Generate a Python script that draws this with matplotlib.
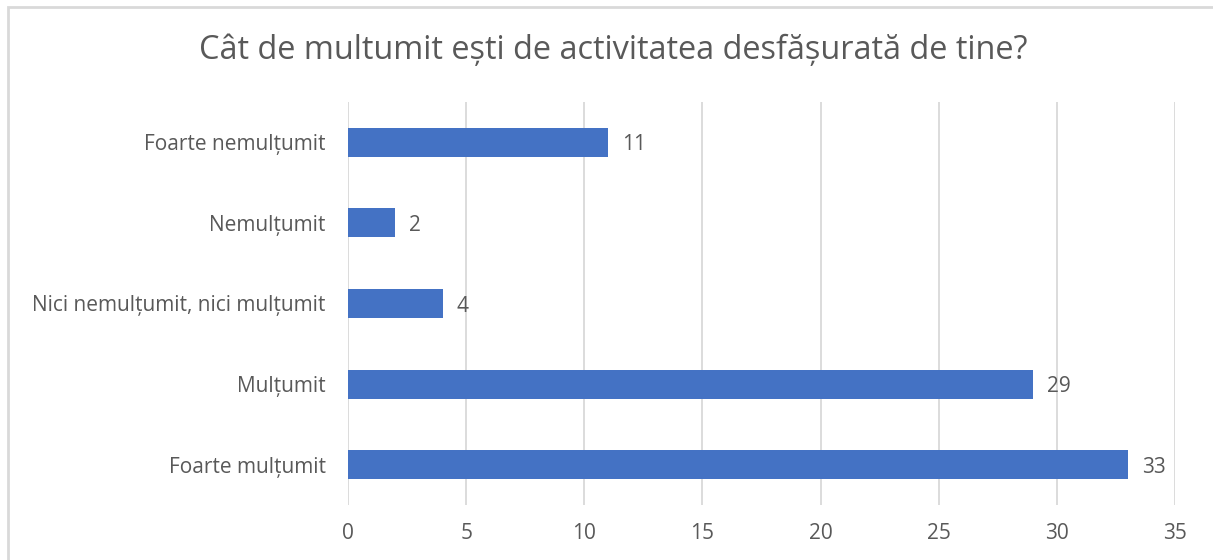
import matplotlib
matplotlib.use("Agg")
from matplotlib import pyplot as plt
from matplotlib.patches import Rectangle

plt.rcParams['font.family'] = ['Open Sans', 'DejaVu Sans']

title = "Cât de multumit ești de activitatea desfășurată de tine?"
categories = ["Foarte nemulțumit", "Nemulțumit", "Nici nemulțumit, nici mulțumit",
              "Mulțumit", "Foarte mulțumit"]
values = [11, 2, 4, 29, 33]
x_ticks = [0, 5, 10, 15, 20, 25, 30, 35]

text_color = "#595959"
grid_color = "#D9D9D9"
bar_color = "#4472C4"

fig = plt.figure(figsize=(12.13, 5.6), dpi=100)
fig.patches.append(Rectangle((8 / 1213, -0.1), 1.2, (560 - 7) / 560 + 0.1,
                             transform=fig.transFigure, fill=False,
                             edgecolor="#D9D9D9", linewidth=2))

ax = fig.add_axes([348 / 1213, 1 - 505 / 560, (1175 - 348) / 1213, (505 - 102) / 560])

pos = list(range(len(categories)))[::-1]
ax.barh(pos, values, height=0.36, color=bar_color, zorder=3)
for p, v in zip(pos, values):
    ax.text(v + 0.6, p, str(v), va="center_baseline", ha="left", fontsize=15, color=text_color)

ax.set_xlim(0, 35)
ax.set_ylim(-0.5, len(categories) - 0.5)
ax.set_xticks(x_ticks)
ax.set_yticks(pos)
ax.set_yticklabels(categories)
ax.grid(axis="x", color=grid_color, linewidth=1.3, zorder=0)
for s in ax.spines.values():
    s.set_visible(False)
ax.tick_params(axis="both", length=0, labelsize=15, labelcolor=text_color)
ax.tick_params(axis="x", pad=13)
ax.tick_params(axis="y", pad=16)

fig.text(613 / 1213, 1 - 51 / 560, title, ha="center", va="center",
         fontsize=23.4, color=text_color)

fig.savefig("out.png", dpi=100)
